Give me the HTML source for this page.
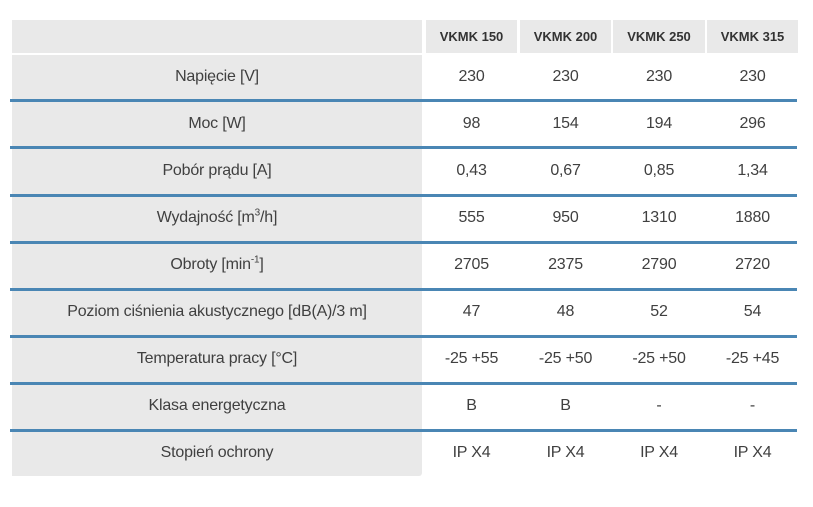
<!DOCTYPE html>
<html><head><style>
body{margin:0;width:813px;height:507px;background:#fff;font-family:"Liberation Sans",sans-serif;color:#404040;position:relative;overflow:hidden}
.g{position:absolute;background:#e9e9e9}
.h{position:absolute;top:20px;height:33px;background:#e9e9e9;font-weight:bold;font-size:13px;line-height:33px;text-align:center;color:#333}
.l{position:absolute;left:10px;width:787px;height:3px;background:#4a86b4}
.r{position:absolute;left:0;width:813px;height:44px;font-size:16px;line-height:44px;letter-spacing:-0.2px}
.r span{position:absolute;text-align:center}
.r .a{left:12px;width:410px}
.r .c1{left:426px;width:91px}.r .c2{left:520px;width:91px}.r .c3{left:613px;width:92px}.r .c4{left:707px;width:91px}
sup{font-size:10px;line-height:0}
</style></head><body>
<div class="g" style="left:12px;top:20px;width:410px;height:33px"></div>
<div class="g" style="left:12px;top:55px;width:410px;height:421px;border-radius:0 0 3px 0"></div>
<div class="h" style="left:426px;width:91px">VKMK 150</div>
<div class="h" style="left:520px;width:91px">VKMK 200</div>
<div class="h" style="left:613px;width:92px">VKMK 250</div>
<div class="h" style="left:707px;width:91px">VKMK 315</div>
<div class="l" style="top:99px"></div>
<div class="l" style="top:146px"></div>
<div class="l" style="top:194px"></div>
<div class="l" style="top:241px"></div>
<div class="l" style="top:288px"></div>
<div class="l" style="top:335px"></div>
<div class="l" style="top:382px"></div>
<div class="l" style="top:429px"></div>
<div class="r" style="top:55px"><span class="a">Napięcie [V]</span><span class="c1">230</span><span class="c2">230</span><span class="c3">230</span><span class="c4">230</span></div>
<div class="r" style="top:102px"><span class="a">Moc [W]</span><span class="c1">98</span><span class="c2">154</span><span class="c3">194</span><span class="c4">296</span></div>
<div class="r" style="top:149px"><span class="a">Pobór prądu [A]</span><span class="c1">0,43</span><span class="c2">0,67</span><span class="c3">0,85</span><span class="c4">1,34</span></div>
<div class="r" style="top:196px"><span class="a">Wydajność [m<sup>3</sup>/h]</span><span class="c1">555</span><span class="c2">950</span><span class="c3">1310</span><span class="c4">1880</span></div>
<div class="r" style="top:243px"><span class="a">Obroty [min<sup>-1</sup>]</span><span class="c1">2705</span><span class="c2">2375</span><span class="c3">2790</span><span class="c4">2720</span></div>
<div class="r" style="top:290px"><span class="a">Poziom ciśnienia akustycznego [dB(A)/3 m]</span><span class="c1">47</span><span class="c2">48</span><span class="c3">52</span><span class="c4">54</span></div>
<div class="r" style="top:337px"><span class="a">Temperatura pracy [°C]</span><span class="c1">-25 +55</span><span class="c2">-25 +50</span><span class="c3">-25 +50</span><span class="c4">-25 +45</span></div>
<div class="r" style="top:384px"><span class="a">Klasa energetyczna</span><span class="c1">B</span><span class="c2">B</span><span class="c3">-</span><span class="c4">-</span></div>
<div class="r" style="top:431px"><span class="a">Stopień ochrony</span><span class="c1">IP X4</span><span class="c2">IP X4</span><span class="c3">IP X4</span><span class="c4">IP X4</span></div>
</body></html>
